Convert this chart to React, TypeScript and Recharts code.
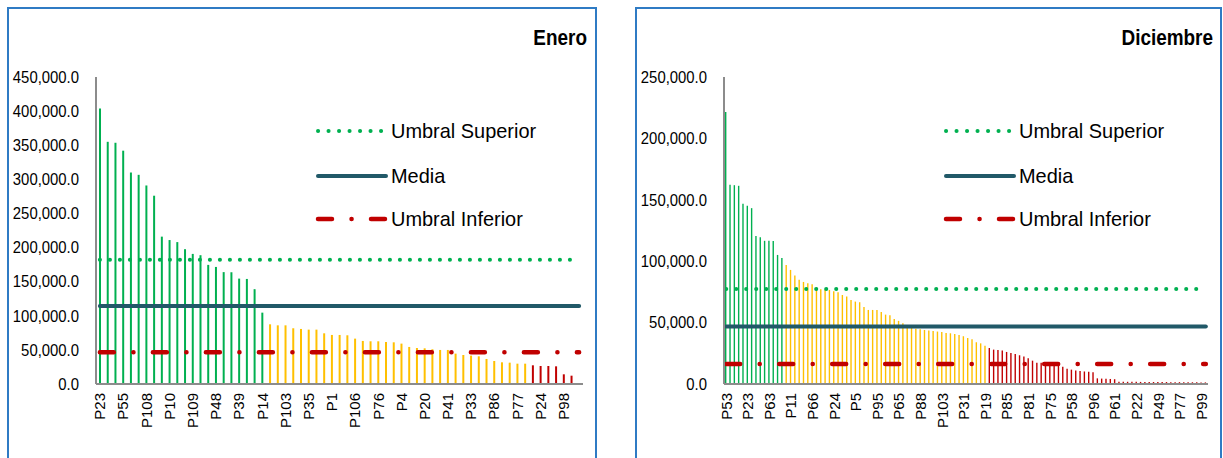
import React from 'react';
import { ComposedChart, Bar, Line, XAxis, YAxis, Cell, Legend } from 'recharts';

const FONT = '"Liberation Sans", Arial, Helvetica, sans-serif';

const GREEN = '#00B050';
const YELLOW = '#FFC000';
const RED = '#C00000';
const TEAL = '#215968';
const AXIS = '#8C8C8C';
const FRAME = '#2F7BC4';

// ---- Enero ----
const eneroTickLabels = ['P23', 'P55', 'P108', 'P10', 'P109', 'P48', 'P39', 'P14', 'P103', 'P35', 'P1',
  'P106', 'P76', 'P4', 'P20', 'P41', 'P33', 'P86', 'P77', 'P24', 'P98'];
const eneroVerde = [404000, 355000, 353600, 342000, 310000, 306600, 291000, 276000, 216000, 211000, 208000,
  197600, 190700, 188800, 174600, 171600, 164000, 163800, 154500, 154000, 139000, 104600];
const eneroAmarillo = [87500, 86000, 86000, 81700, 80700, 79700, 79700, 74300, 71900, 71900, 71400, 66500,
  63100, 62600, 62600, 61600, 61100, 59200, 54300, 52800, 52300, 50900, 49900, 49900, 44500, 42500, 41600,
  40600, 36700, 33700, 31800, 31300, 29800, 29800];
const eneroRojo = [27400, 26400, 26400, 25900, 14200, 12200, 1500];
const eneroUmbralSuperior = 182000;
const eneroMedia = 114400;
const eneroUmbralInferior = 46500;
const eneroYTicks = [0, 50000, 100000, 150000, 200000, 250000, 300000, 350000, 400000, 450000];

// ---- Diciembre ----
const diciembreTickLabels = ['P53', 'P23', 'P63', 'P11', 'P66', 'P24', 'P5', 'P95', 'P65', 'P88', 'P103',
  'P31', 'P19', 'P85', 'P81', 'P75', 'P58', 'P96', 'P61', 'P22', 'P49', 'P77', 'P99'];
const diciembreVerde = [221400, 162200, 161900, 161400, 146700, 145100, 143200, 120600, 119500, 116600,
  116600, 116500, 105100, 102700];
const diciembreAmarillo = [97000, 92900, 88300, 84800, 83100, 82000, 81200, 78800, 77200, 76900, 76600,
  75500, 74700, 72500, 71200, 68500, 67100, 66600, 62800, 60300, 60300, 60200, 58700, 56500, 56000, 53000,
  51400, 49400, 47500, 46000, 45000, 44600, 44000, 43500, 43200, 42700, 42300, 41600, 41300, 40800, 39900,
  38900, 37500, 36400, 34000, 33100, 31200];
const diciembreRojo = [29300, 28000, 27700, 27200, 26100, 25300, 24500, 23400, 22300, 20900, 19000, 17400,
  17400, 16800, 16300, 15800, 15200, 14100, 12500, 11700, 10900, 10500, 10200, 10000, 9600, 4600, 4400,
  4200, 4100, 3900, 1900, 1900, 1800, 1800, 1800, 1700, 1700, 1700, 1600, 1600, 1600, 1600, 1500, 1500,
  1500, 1500, 1400, 1400, 1400, 1300, 1300];
const diciembreUmbralSuperior = 77300;
const diciembreMedia = 46900;
const diciembreUmbralInferior = 16300;
const diciembreYTicks = [0, 50000, 100000, 150000, 200000, 250000];

type Row = { i: number; label: string; value: number; color: string; sup: number; media: number; inf: number };

function buildRows(verde: number[], amarillo: number[], rojo: number[], labels: string[], step: number,
  sup: number, media: number, inf: number): Row[] {
  const values = [
    ...verde.map(v => [v, GREEN] as const),
    ...amarillo.map(v => [v, YELLOW] as const),
    ...rojo.map(v => [v, RED] as const),
  ];
  return values.map(([value, color], i) => ({
    i,
    label: i % step === 0 ? labels[i / step] || '' : '',
    value,
    color,
    sup,
    media,
    inf,
  }));
}

const eneroRows = buildRows(eneroVerde, eneroAmarillo, eneroRojo, eneroTickLabels, 3,
  eneroUmbralSuperior, eneroMedia, eneroUmbralInferior);
const diciembreRows = buildRows(diciembreVerde, diciembreAmarillo, diciembreRojo, diciembreTickLabels, 5,
  diciembreUmbralSuperior, diciembreMedia, diciembreUmbralInferior);

const fmt = (v: number) => v.toLocaleString('en-US', { minimumFractionDigits: 1, maximumFractionDigits: 1 });

const DOTS = '0.1 9.9';
const DASH_DOT = '14 19.5 0.1 19.4';

const XTick = (props: any) => {
  const { x, y, payload, rows } = props;
  const label = rows[payload.value]?.label;
  if (!label) return <g />;
  return (
    <text x={x} y={y} transform={`rotate(-90, ${x}, ${y})`} textAnchor="end" dy="0.36em"
      fontSize={15} fontFamily={FONT} fill="#000">
      {label}
    </text>
  );
};

// the original labels are a bit narrower than Arial, so squeeze them slightly
const YTick = (props: any) => {
  const { x, y, payload } = props;
  return (
    <text transform={`translate(${x}, ${y}) scale(0.93, 1)`} textAnchor="end" dy="0.36em"
      fontSize={16} fontFamily={FONT} fill="#000">
      {fmt(payload.value)}
    </text>
  );
};

const LegendBox = () => (
  <svg width={280} height={130} style={{ display: 'block', overflow: 'visible' }}>
    <line x1={2} x2={66} y1={23} y2={23} stroke={GREEN} strokeWidth={4} strokeDasharray="0.1 10.4" strokeLinecap="round" />
    <text transform="translate(75, 23) scale(0.95, 1)" dy="0.35em" fontSize={21} fontFamily={FONT} fill="#000">Umbral Superior</text>
    <line x1={2} x2={70} y1={68} y2={68} stroke={TEAL} strokeWidth={4} strokeLinecap="round" />
    <text transform="translate(75, 68) scale(0.95, 1)" dy="0.35em" fontSize={21} fontFamily={FONT} fill="#000">Media</text>
    <line x1={2} x2={70} y1={111} y2={111} stroke={RED} strokeWidth={4.5} strokeDasharray={DASH_DOT} strokeLinecap="round" />
    <text transform="translate(75, 111) scale(0.95, 1)" dy="0.35em" fontSize={21} fontFamily={FONT} fill="#000">Umbral Inferior</text>
  </svg>
);

type ChartProps = {
  title: string;
  rows: Row[];
  left: number;
  width: number;
  plotLeft: number;
  plotRight: number;
  yMax: number;
  yTicks: number[];
  interval: number;
  barSize: number;
  legendLeft: number;
  titleRight: number;
};

function MonthChart({ title, rows, left, width, plotLeft, plotRight, yMax, yTicks, interval, barSize, legendLeft, titleRight }: ChartProps) {
  const height = 458;
  const yAxisWidth = 80;
  const xAxisHeight = 60;
  const margin = {
    top: 77,
    bottom: height - 384 - xAxisHeight,
    left: plotLeft - left - yAxisWidth,
    right: left + width - plotRight,
  };
  return (
    <div style={{ position: 'absolute', left, top: 0, width, height }}>
      <ComposedChart width={width} height={height} data={rows} margin={margin} barCategoryGap={0}>
        <XAxis dataKey="i" type="category" interval={interval} tickLine={false} tickSize={0} tickMargin={9}
          axisLine={{ stroke: AXIS, strokeWidth: 2 }} height={xAxisHeight} tick={<XTick rows={rows} />} />
        <YAxis domain={[0, yMax]} ticks={yTicks} width={yAxisWidth} tickLine={false} tickSize={0} tickMargin={17}
          axisLine={{ stroke: AXIS, strokeWidth: 2 }} interval={0} tick={<YTick />} />
        <Bar dataKey="value" barSize={barSize} isAnimationActive={false}>
          {rows.map(r => <Cell key={r.i} fill={r.color} />)}
        </Bar>
        <Line dataKey="sup" stroke={GREEN} strokeWidth={4} strokeDasharray={DOTS} strokeLinecap="round"
          dot={false} activeDot={false} isAnimationActive={false} />
        <Line dataKey="media" stroke={TEAL} strokeWidth={4} strokeLinecap="round"
          dot={false} activeDot={false} isAnimationActive={false} />
        <Line dataKey="inf" stroke={RED} strokeWidth={4.5} strokeDasharray={DASH_DOT} strokeLinecap="round"
          dot={false} activeDot={false} isAnimationActive={false} />
        <Legend layout="vertical" align="center" verticalAlign="middle"
          wrapperStyle={{ left: legendLeft - left, top: 108, width: 280, height: 130 }}
          content={<LegendBox />} />
      </ComposedChart>
      <div style={{
        position: 'absolute', top: 27, left: 0, width: titleRight - left, textAlign: 'right',
        fontFamily: FONT, fontWeight: 'bold', fontSize: 22, lineHeight: '22px', color: '#000',
        transform: 'scaleX(0.86)', transformOrigin: '100% 50%',
      }}>
        {title}
      </div>
    </div>
  );
}

export default function App() {
  return (
    <div style={{ position: 'absolute', left: 0, top: 0, width: 1223, height: 458, overflow: 'hidden', background: '#fff' }}>
      <div style={{ position: 'absolute', left: 7, top: 7, width: 590, height: 460, border: `2px solid ${FRAME}`, borderBottom: 'none', boxSizing: 'border-box' }} />
      <div style={{ position: 'absolute', left: 635, top: 7, width: 587, height: 460, border: `2px solid ${FRAME}`, borderBottom: 'none', boxSizing: 'border-box' }} />
      <MonthChart title="Enero" rows={eneroRows} left={0} width={600} plotLeft={96} plotRight={583}
        yMax={450000} yTicks={eneroYTicks} interval={2} barSize={2} legendLeft={316} titleRight={587} />
      <MonthChart title="Diciembre" rows={diciembreRows} left={620} width={603} plotLeft={724} plotRight={1208}
        yMax={250000} yTicks={diciembreYTicks} interval={4} barSize={1.4} legendLeft={944} titleRight={1213} />
    </div>
  );
}
